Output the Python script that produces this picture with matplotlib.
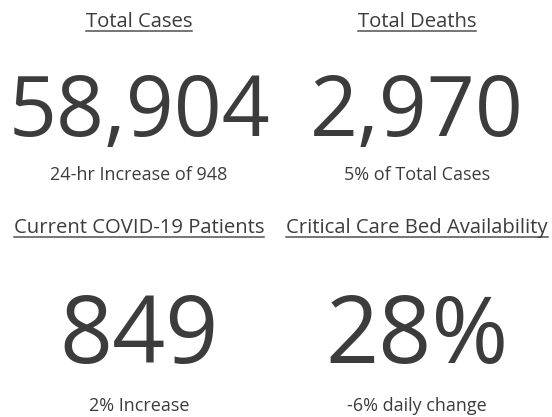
import matplotlib
matplotlib.use("Agg")
import matplotlib.pyplot as plt
from matplotlib.lines import Line2D

# Data
titles = ["Total Cases", "Total Deaths", "Current COVID-19 Patients", "Critical Care Bed Availability"]
values = [58904, 2970, 849, 28]
value_labels = [f"{values[0]:,}", f"{values[1]:,}", f"{values[2]}", f"{values[3]}%"]
subtitles = ["24-hr Increase of 948", "5% of Total Cases", "2% Increase", "-6% daily change"]

W, H = 552, 417
fig = plt.figure(figsize=(W / 100, H / 100), dpi=100)
fig.patch.set_facecolor("white")
plt.rcParams['font.family'] = ['Open Sans', 'DejaVu Sans']

col_x = [139, 417, 139, 417]
title_base = [27, 27, 233, 233]
num_base = [136, 136, 363, 363]
num_size = [60.5, 60.5, 67, 67]
sub_base = [180, 180, 411, 411]
color = "#3c3c3c"

def fx(px):
    return px / W

def fy(py):
    return 1 - py / H

title_texts = []
for i in range(4):
    t = fig.text(fx(col_x[i]), fy(title_base[i]), titles[i], ha="center", va="baseline",
                 fontsize=14.6, color=color)
    title_texts.append(t)
    fig.text(fx(col_x[i]), fy(num_base[i]), value_labels[i], ha="center", va="baseline",
             fontsize=num_size[i], color=color)
    fig.text(fx(col_x[i]), fy(sub_base[i]), subtitles[i], ha="center", va="baseline",
             fontsize=13, color=color)

fig.canvas.draw()
r = fig.canvas.get_renderer()
for i, t in enumerate(title_texts):
    bb = t.get_window_extent(renderer=r)
    y = fy(title_base[i] + 3.5)
    fig.add_artist(Line2D([bb.x0 / W, bb.x1 / W], [y, y], color="#505050", linewidth=1.1,
                          transform=fig.transFigure))

fig.savefig("out.png", dpi=100, facecolor="white")
